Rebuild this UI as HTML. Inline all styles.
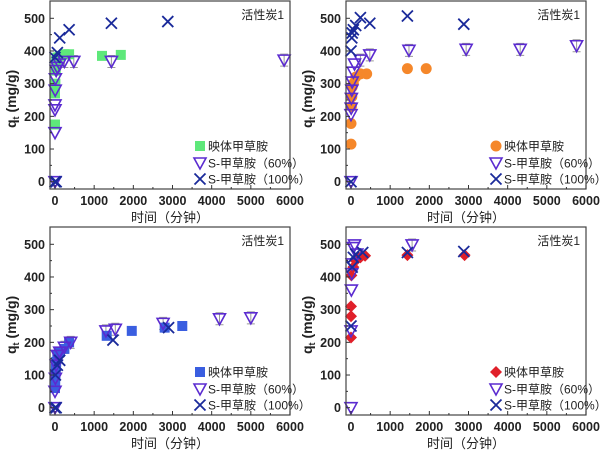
<!DOCTYPE html>
<html><head><meta charset="utf-8"><style>
body{margin:0;background:#fff}
svg text{font-family:"Liberation Sans","Noto Sans CJK SC",sans-serif}
</style></head><body>
<svg id="s" width="600" height="453" xmlns="http://www.w3.org/2000/svg"></svg>
<script>
const NS="http://www.w3.org/2000/svg";const S=document.getElementById('s');
function el(t,a,txt){const e=document.createElementNS(NS,t);for(const k in a)e.setAttribute(k,a[k]);if(txt!=null)e.textContent=txt;S.appendChild(e);return e;}
const P=[
 {ox:0,oy:0,m:'sq',c:'#5ee87a',
  a:[[0,175],[0,270],[10,300],[20,340],[30,370],[60,380],[120,385],[240,390],[360,390],[1200,385],[1680,388]],
  b:[[0,0],[0,150],[0,220],[0,235],[5,280],[10,315],[30,340],[60,350],[120,360],[240,368],[480,368],[1440,368],[5850,372]],
  x:[[0,0],[30,0],[0,380],[60,395],[120,440],[360,465],[1440,485],[2880,490]]},
 {ox:296,oy:0,m:'ci',c:'#f5872a',
  a:[[0,115],[0,178],[10,230],[20,260],[30,290],[60,300],[120,320],[240,330],[400,330],[1440,346],[1920,346]],
  b:[[0,0],[0,205],[5,225],[10,255],[20,280],[30,305],[60,335],[90,360],[240,372],[480,388],[1480,402],[2940,405],[4320,405],[5760,416]],
  x:[[0,0],[0,400],[20,440],[30,455],[60,465],[120,478],[240,502],[480,485],[1440,507],[2880,482]]},
 {ox:0,oy:226,m:'sq',c:'#3a5ee0',
  a:[[0,60],[5,80],[10,100],[20,120],[30,140],[60,160],[120,170],[240,180],[360,200],[1320,220],[1960,235],[2800,245],[3250,250]],
  b:[[0,0],[0,50],[10,90],[30,130],[60,160],[120,170],[240,185],[400,200],[1300,235],[1540,240],[2760,258],[4200,272],[5000,275]],
  x:[[0,0],[30,0],[10,100],[60,130],[120,145],[1480,207],[2900,245]]},
 {ox:296,oy:226,m:'di',c:'#e0202a',
  a:[[0,215],[0,280],[0,310],[10,405],[60,430],[120,450],[240,460],[360,465],[1440,467],[2900,467]],
  b:[[0,0],[0,235],[10,360],[20,410],[30,440],[60,490],[90,498],[150,470],[1560,498]],
  x:[[0,250],[30,430],[60,460],[120,470],[300,475],[1440,475],[2880,478]]}
];
function mk(type,x,y,c){
 if(type=='sq')el('rect',{x:x-5,y:y-5,width:10,height:10,fill:c});
 else if(type=='ci')el('circle',{cx:x,cy:y,r:5.5,fill:c});
 else if(type=='di')el('polygon',{points:`${x},${y-6} ${x+6},${y} ${x},${y+6} ${x-6},${y}`,fill:c});
 else if(type=='tri')el('polygon',{points:`${x-6},${y-5} ${x+6},${y-5} ${x},${y+6}`,fill:'none',stroke:'#5b2bd0','stroke-width':1.6});
 else if(type=='x'){el('path',{d:`M${x-5.5} ${y-5.5}L${x+5.5} ${y+5.5}M${x+5.5} ${y-5.5}L${x-5.5} ${y+5.5}`,stroke:'#1a2a9a','stroke-width':1.8});}
}
function eb(x,y,h){el('path',{d:`M${x} ${y-h}V${y+h}M${x-4} ${y-h}H${x+4}M${x-4} ${y+h}H${x+4}`,stroke:'#999','stroke-width':1});}
const names=['映体甲草胺','S-甲草胺（60%）','S-甲草胺（100%）'];
P.forEach(p=>{
 const L=p.ox+50,R=p.ox+290,T=p.oy+1,B=p.oy+189;
 const X=v=>p.ox+55+v*235/6000, Y=v=>p.oy+181.7-v*163.4/500;
 p.b.forEach(d=>{if(d[0]>200)eb(X(d[0]),Y(d[1]),6);});
 p.a.forEach(d=>mk(p.m,X(d[0]),Y(d[1]),p.c));
 p.b.forEach(d=>mk('tri',X(d[0]),Y(d[1])));
 p.x.forEach(d=>mk('x',X(d[0]),Y(d[1])));
 el('rect',{x:L,y:T,width:R-L,height:B-T,fill:'none',stroke:'#444','stroke-width':1.2});
 for(let v=0;v<=500;v+=100){const y=Y(v);el('line',{x1:L,x2:L+4,y1:y,y2:y,stroke:'#333'});el('text',{x:L-5,y:y+4.5,'text-anchor':'end','font-size':12.5,'font-weight':'bold',fill:'#222'},v);}
 for(let v=50;v<500;v+=100){const y=Y(v);el('line',{x1:L,x2:L+2,y1:y,y2:y,stroke:'#333'});}
 for(let v=0;v<=6000;v+=1000){const x=X(v);el('line',{x1:x,x2:x,y1:B,y2:B-4,stroke:'#333'});el('text',{x:x,y:B+16,'text-anchor':'middle','font-size':12.5,'font-weight':'bold',fill:'#222'},v);}
 for(let v=500;v<6000;v+=1000){const x=X(v);el('line',{x1:x,x2:x,y1:B,y2:B-2,stroke:'#333'});}
 el('text',{x:p.ox+170,y:p.oy+222,'text-anchor':'middle','font-size':13,fill:'#222'},'时间（分钟）');
 const t=el('text',{x:0,y:0,'font-size':14,'font-weight':'bold',fill:'#222',transform:`translate(${p.ox+16},${p.oy+128}) rotate(-90)`});
 t.innerHTML='q<tspan font-size="9" dy="3">t</tspan><tspan dy="-3"> (mg/g)</tspan>';
 el('text',{x:p.ox+284,y:p.oy+19,'text-anchor':'end','font-size':12,fill:'#222'},'活性炭1');
 const ly=[146,163,179];
 mk(p.m,p.ox+200,p.oy+ly[0],p.c);mk('tri',p.ox+200,p.oy+ly[1]);mk('x',p.ox+200,p.oy+ly[2]);
 names.forEach((n,i)=>el('text',{x:p.ox+208,y:p.oy+ly[i]+4.5,'font-size':12,fill:'#222'},n));
});
</script>
</body></html>
